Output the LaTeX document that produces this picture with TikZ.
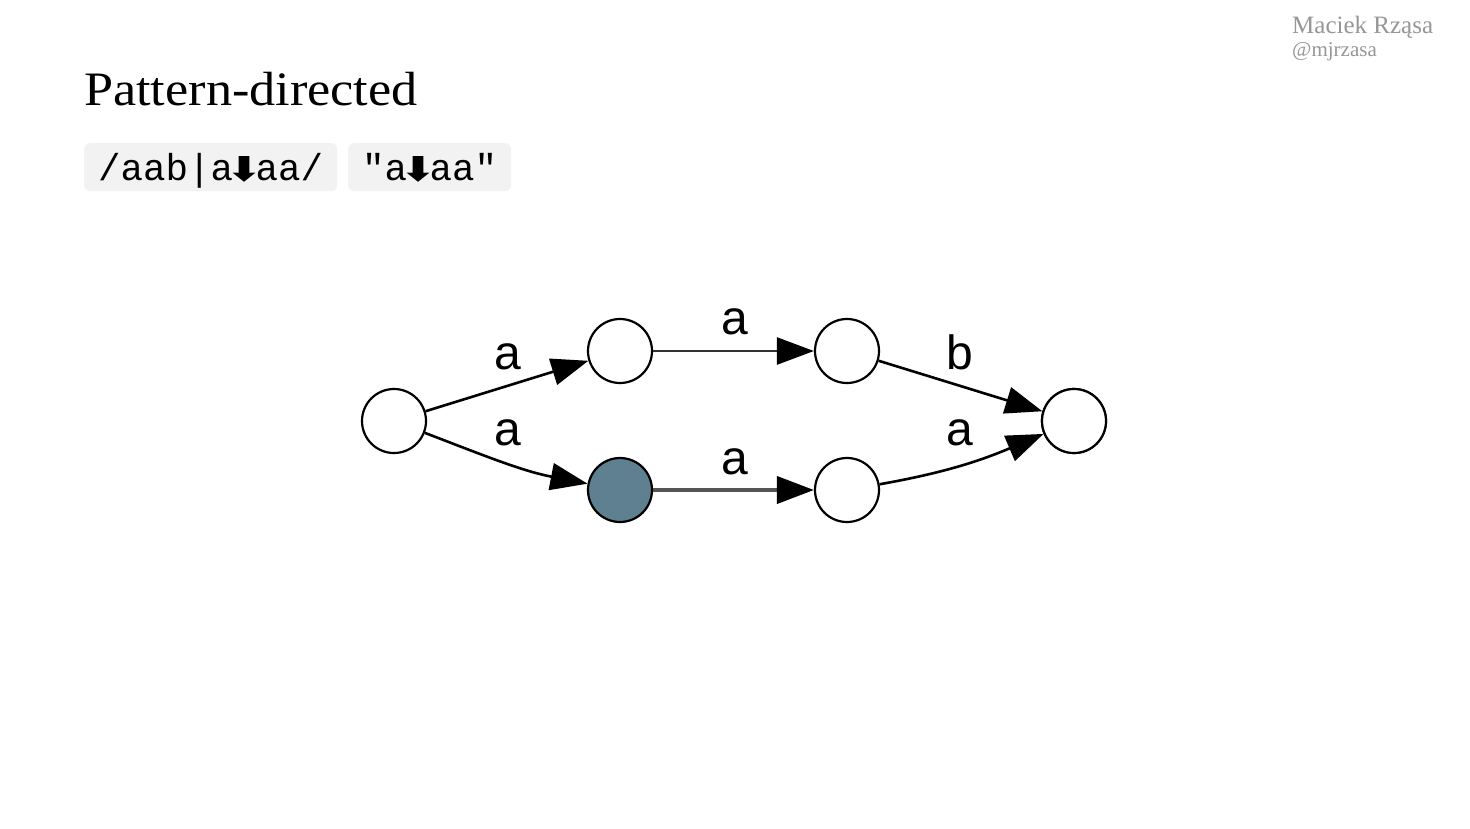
\documentclass[tikz,border=0pt]{standalone}
\usepackage{fontspec}
\setmainfont{Liberation Serif}
\newfontfamily\labfont{Liberation Sans}
\newfontfamily\codefont{Liberation Mono}
\newfontfamily\symfont{DejaVu Sans}
\usetikzlibrary{arrows.meta}
\definecolor{boxgray}{RGB}{242,242,242}
\definecolor{authorgray}{RGB}{150,150,150}
\definecolor{stfill}{RGB}{94,128,144}
\definecolor{edgegray}{RGB}{85,85,85}
\newcommand{\dnarrow}{\makebox[0.6em][c]{\raisebox{-1pt}{\resizebox{36pt}{25pt}{\symfont\bfseries ⬇}}}}
\begin{document}
\begin{tikzpicture}[x=1pt,y=-1pt,
  state/.style={circle, draw=black, line width=2.2pt, minimum size=64pt, inner sep=0pt, fill=white},
  cur/.style={state, fill=stfill},
  tr/.style={line width=2.6pt, -{Triangle[length=37pt,width=27pt,color=black]}},
  lab/.style={font=\labfont\fontsize{48}{48}\selectfont, inner sep=0pt, anchor=center},
  codebox/.style={fill=boxgray, rounded corners=6pt, inner xsep=14pt, inner ysep=0pt,
     text height=37pt, text depth=11pt, anchor=north west,
     font=\codefont\fontsize{37.5}{37.5}\selectfont}
]
\useasboundingbox (0,0) rectangle (1470,828);

% header
\node[anchor=base west, inner sep=0pt, font=\fontsize{48}{48}\selectfont] (title) at (84,105) {\scalebox{1.088}[1]{Pattern-directed}};
\node[anchor=base west, inner sep=0pt, text=authorgray, font=\fontsize{25}{25}\selectfont] (author) at (1292,33) {Maciek Rząsa};
\node[anchor=base west, inner sep=0pt, text=authorgray, font=\fontsize{21}{21}\selectfont] (handle) at (1292,56) {@mjrzasa};

\node[codebox] (re) at (84,143) {/aab|a\dnarrow aa/};
\node[codebox] (str) at (348,143) {"a\dnarrow aa"};

% states
\node[state] (n0) at (394,421) {};
\node[state] (n1) at (620,351) {};
\node[state] (n2) at (847,351) {};
\node[state] (n3) at (1074,421) {};
\node[cur]   (n4) at (620,490) {};
\node[state] (n5) at (847,490) {};

% transitions
\draw[tr] (n0) -- (n1);
\draw[tr] (n0) to[out=-21,in=169] (n4);
\draw[tr, draw=black!80] (n1) -- (n2);
\draw[tr, draw=edgegray, line width=4pt] (n4) -- (n5);
\draw[tr] (n2) -- (n3);
\draw[tr] (n5) to[out=10,in=203] (n3);
\fill[white] (998,414) rectangle (1040,430);
\node[state] at (1074,421) {};

% labels
\node[lab] (l1) at (508,357) {a};
\node[lab] (l2) at (508,433) {a};
\node[lab] (l3) at (735,322) {a};
\node[lab] (l4) at (735,462) {a};
\node[lab] (l5) at (960,352) {b};
\node[lab] (l6) at (960,433) {a};
\end{tikzpicture}
\end{document}
